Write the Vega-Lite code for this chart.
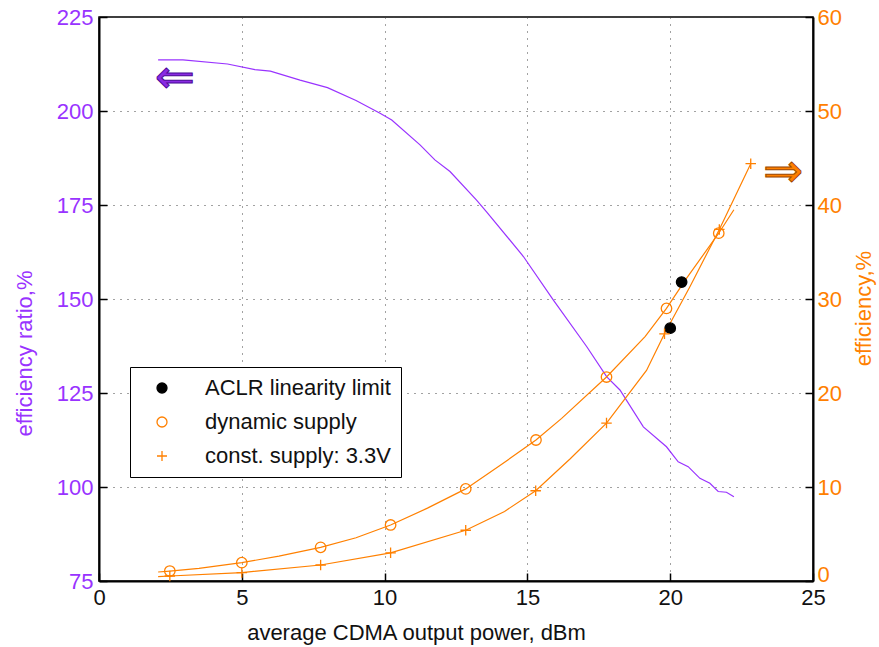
{
  "$schema": "https://vega.github.io/schema/vega-lite/v6.json",
  "autosize": {"type": "none"},
  "width": 714,
  "height": 564,
  "padding": {"left": 99, "top": 17, "right": 66, "bottom": 66},
  "background": "white",
  "config": {
    "font": "Liberation Sans",
    "view": {"stroke": "black", "strokeWidth": 1.5},
    "axis": {
      "labelFont": "Liberation Sans",
      "titleFont": "Liberation Sans",
      "labelFontSize": 22,
      "titleFontSize": 22,
      "titleFontWeight": "normal",
      "labelFlush": false,
      "domainColor": "black",
      "domainWidth": 2,
      "tickColor": "black",
      "tickWidth": 1.5,
      "gridColor": "#444444",
      "gridDash": [1, 6],
      "gridWidth": 1,
      "gridOpacity": 1
    },
    "legend": {
      "labelFont": "Liberation Sans",
      "labelFontSize": 22,
      "labelColor": "#111111",
      "labelLimit": 500
    }
  },
  "datasets": {
    "ratio": [
      {"x": 2.07, "y": 213.6}, {"x": 2.94, "y": 213.6}, {"x": 4.5, "y": 212.5},
      {"x": 5.46, "y": 211.0}, {"x": 6.0, "y": 210.6}, {"x": 7.04, "y": 208.2},
      {"x": 8.0, "y": 206.2}, {"x": 9.0, "y": 202.8}, {"x": 9.84, "y": 199.4},
      {"x": 10.25, "y": 197.6}, {"x": 11.24, "y": 191.0}, {"x": 11.76, "y": 187.0},
      {"x": 12.29, "y": 183.9}, {"x": 13.22, "y": 176.3}, {"x": 13.57, "y": 173.2},
      {"x": 14.86, "y": 161.3}, {"x": 15.91, "y": 149.7}, {"x": 17.08, "y": 137.3},
      {"x": 17.78, "y": 129.3}, {"x": 18.24, "y": 125.8}, {"x": 19.06, "y": 116.0},
      {"x": 19.87, "y": 110.7}, {"x": 20.28, "y": 106.7}, {"x": 20.63, "y": 105.4},
      {"x": 21.04, "y": 102.3}, {"x": 21.39, "y": 101.0}, {"x": 21.68, "y": 98.8},
      {"x": 21.97, "y": 98.6}, {"x": 22.23, "y": 97.4}
    ],
    "curves": [
      {"curve": "dynamic", "x": 2.07, "y": 0.96}, {"curve": "dynamic", "x": 2.48, "y": 1.06},
      {"curve": "dynamic", "x": 3.5, "y": 1.35}, {"curve": "dynamic", "x": 5.0, "y": 1.95},
      {"curve": "dynamic", "x": 6.3, "y": 2.65}, {"curve": "dynamic", "x": 7.76, "y": 3.58},
      {"curve": "dynamic", "x": 9.0, "y": 4.6}, {"curve": "dynamic", "x": 10.21, "y": 5.96},
      {"curve": "dynamic", "x": 11.5, "y": 7.75}, {"curve": "dynamic", "x": 12.84, "y": 9.8},
      {"curve": "dynamic", "x": 14.0, "y": 12.2}, {"curve": "dynamic", "x": 15.3, "y": 15.0},
      {"curve": "dynamic", "x": 16.2, "y": 17.3}, {"curve": "dynamic", "x": 17.77, "y": 21.7},
      {"curve": "dynamic", "x": 19.12, "y": 26.0}, {"curve": "dynamic", "x": 19.87, "y": 29.0},
      {"curve": "dynamic", "x": 20.57, "y": 32.2}, {"curve": "dynamic", "x": 21.7, "y": 37.0},
      {"curve": "dynamic", "x": 22.23, "y": 39.5},
      {"curve": "const", "x": 2.07, "y": 0.46}, {"curve": "const", "x": 2.48, "y": 0.53},
      {"curve": "const", "x": 5.0, "y": 0.9}, {"curve": "const", "x": 7.76, "y": 1.7},
      {"curve": "const", "x": 10.21, "y": 3.0}, {"curve": "const", "x": 12.84, "y": 5.4},
      {"curve": "const", "x": 14.2, "y": 7.4}, {"curve": "const", "x": 15.29, "y": 9.6},
      {"curve": "const", "x": 16.5, "y": 13.0}, {"curve": "const", "x": 17.77, "y": 16.8},
      {"curve": "const", "x": 19.17, "y": 22.4}, {"curve": "const", "x": 19.8, "y": 26.3},
      {"curve": "const", "x": 20.69, "y": 31.3}, {"curve": "const", "x": 21.72, "y": 37.4},
      {"curve": "const", "x": 22.82, "y": 44.4}
    ],
    "points": [
      {"series": "ACLR linearity limit", "x": 20.4, "y": 31.8},
      {"series": "ACLR linearity limit", "x": 20.0, "y": 26.9},
      {"series": "dynamic supply", "x": 2.48, "y": 1.06},
      {"series": "dynamic supply", "x": 5.0, "y": 1.95},
      {"series": "dynamic supply", "x": 7.76, "y": 3.58},
      {"series": "dynamic supply", "x": 10.21, "y": 5.96},
      {"series": "dynamic supply", "x": 12.84, "y": 9.8},
      {"series": "dynamic supply", "x": 15.3, "y": 15.0},
      {"series": "dynamic supply", "x": 17.77, "y": 21.7},
      {"series": "dynamic supply", "x": 19.87, "y": 29.0},
      {"series": "dynamic supply", "x": 21.7, "y": 37.0},
      {"series": "const. supply: 3.3V", "x": 2.48, "y": 0.53},
      {"series": "const. supply: 3.3V", "x": 5.0, "y": 0.9},
      {"series": "const. supply: 3.3V", "x": 7.76, "y": 1.7},
      {"series": "const. supply: 3.3V", "x": 10.21, "y": 3.0},
      {"series": "const. supply: 3.3V", "x": 12.84, "y": 5.4},
      {"series": "const. supply: 3.3V", "x": 15.29, "y": 9.6},
      {"series": "const. supply: 3.3V", "x": 17.77, "y": 16.8},
      {"series": "const. supply: 3.3V", "x": 19.8, "y": 26.3},
      {"series": "const. supply: 3.3V", "x": 21.72, "y": 37.4},
      {"series": "const. supply: 3.3V", "x": 22.82, "y": 44.4}
    ]
  },
  "layer": [
    {
      "layer": [
        {
          "data": {"name": "ratio"},
          "mark": {"type": "line", "color": "#9933ff", "strokeWidth": 1.2},
          "encoding": {
            "x": {"field": "x", "type": "quantitative", "scale": {"domain": [0, 25], "nice": false},
              "axis": {"values": [0, 5, 10, 15, 20, 25], "title": "average CDMA output power, dBm", "titleX": 317, "titlePadding": 14, "labelColor": "#111111", "titleColor": "#111111", "tickSize": -8, "labelPadding": 14, "grid": true}},
            "y": {"field": "y", "type": "quantitative", "scale": {"domain": [75, 225], "nice": false},
              "axis": {"orient": "left", "values": [75, 100, 125, 150, 175, 200, 225], "title": "efficiency ratio,%", "titleY": 336, "titlePadding": 20, "labelColor": "#9933ff", "titleColor": "#9933ff", "tickSize": -8, "labelPadding": 14, "grid": true}}
          }
        },
        {
          "data": {"values": [{"x": 2.66, "y": 208.5, "t": "⇐"}]},
          "mark": {"type": "text", "fontSize": 48, "font": "DejaVu Sans", "fill": "#8a2be2", "stroke": "#4b0a99", "strokeWidth": 1, "align": "center", "baseline": "middle"},
          "encoding": {
            "x": {"field": "x", "type": "quantitative"},
            "y": {"field": "y", "type": "quantitative"},
            "text": {"field": "t"}
          }
        }
      ]
    },
    {
      "layer": [
        {
          "data": {"name": "curves"},
          "mark": {"type": "line", "color": "#ff8000", "strokeWidth": 1.2},
          "encoding": {
            "x": {"field": "x", "type": "quantitative"},
            "y": {"field": "y", "type": "quantitative", "scale": {"domain": [0, 60], "nice": false},
              "axis": {"orient": "right", "values": [0, 10, 20, 30, 40, 50, 60], "title": "efficiency,%", "titleAngle": 270, "titleY": 291, "titlePadding": 34, "labelColor": "#ff8000", "titleColor": "#ff8000", "tickSize": -8, "labelPadding": 12, "labelOffset": {"condition": {"test": "datum.value === 0", "value": -7}, "value": 0}, "grid": false}},
            "detail": {"field": "curve"}
          }
        },
        {
          "data": {"name": "points"},
          "mark": {"type": "point", "size": 110, "strokeWidth": 1.3, "opacity": 1},
          "encoding": {
            "x": {"field": "x", "type": "quantitative"},
            "y": {"field": "y", "type": "quantitative"},
            "shape": {"field": "series", "type": "nominal",
              "scale": {"domain": ["ACLR linearity limit", "dynamic supply", "const. supply: 3.3V"], "range": ["circle", "circle", "M-1,0H1M0,-1V1"]},
              "legend": {"title": null, "orient": "none", "legendX": 31, "legendY": 350, "padding": 10, "strokeColor": "black", "fillColor": "white", "symbolOffset": 11, "labelOffset": 32, "rowPadding": 12, "symbolSize": 100, "symbolStrokeWidth": 1.3, "labelLimit": 500, "labelExpr": "datum.label + '   '"}},
            "stroke": {"field": "series", "type": "nominal",
              "scale": {"domain": ["ACLR linearity limit", "dynamic supply", "const. supply: 3.3V"], "range": ["black", "#ff8000", "#ff8000"]}},
            "fill": {"field": "series", "type": "nominal",
              "scale": {"domain": ["ACLR linearity limit", "dynamic supply", "const. supply: 3.3V"], "range": ["black", "transparent", "transparent"]}}
          }
        },
        {
          "data": {"values": [{"x": 23.95, "y": 43.4, "t": "⇒"}]},
          "mark": {"type": "text", "fontSize": 48, "font": "DejaVu Sans", "fill": "#ff8000", "stroke": "#a04800", "strokeWidth": 1, "align": "center", "baseline": "middle"},
          "encoding": {
            "x": {"field": "x", "type": "quantitative"},
            "y": {"field": "y", "type": "quantitative"},
            "text": {"field": "t"}
          }
        }
      ]
    }
  ],
  "resolve": {"scale": {"y": "independent"}}
}
